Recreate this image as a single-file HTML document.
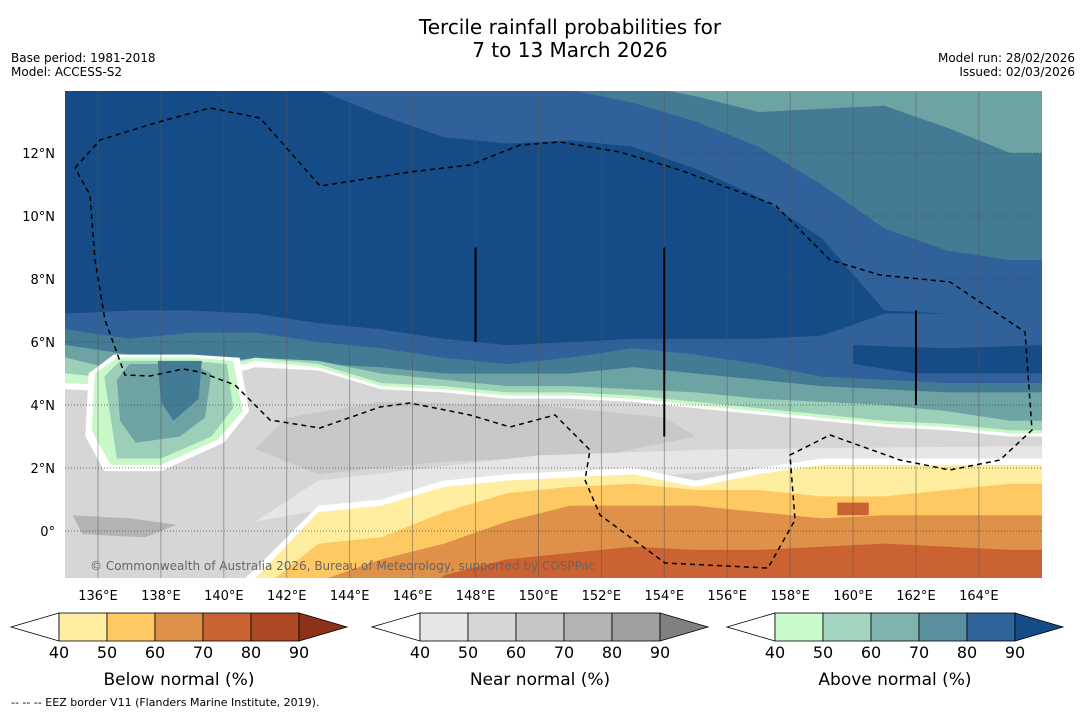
<!DOCTYPE html>
<html><head><meta charset="utf-8">
<style>
body{margin:0;background:#fff;width:1085px;height:713px;overflow:hidden;font-family:"Liberation Sans","DejaVu Sans",sans-serif;}
svg{position:absolute;left:0;top:0}
text{font-family:"DejaVu Sans","Liberation Sans",sans-serif}
</style></head>
<body>
<svg id="c" width="1085" height="713">
 <text x="570" y="34" font-size="20" text-anchor="middle">Tercile rainfall probabilities for</text>
 <text x="570" y="57" font-size="20" text-anchor="middle">7 to 13 March 2026</text>
 <text x="11" y="62" font-size="12">Base period: 1981-2018</text>
 <text x="11" y="76" font-size="12">Model: ACCESS-S2</text>
 <text x="1075" y="62" font-size="12" text-anchor="end">Model run: 28/02/2026</text>
 <text x="1075" y="76" font-size="12" text-anchor="end">Issued: 02/03/2026</text>
 <defs><clipPath id="mc"><rect x="65" y="91" width="977" height="487"/></clipPath></defs>
 <g id="map" clip-path="url(#mc)"></g>
 <g id="axes"></g>
 <g id="bars"></g>
 <text x="11" y="706" font-size="11">--  --  -- EEZ border V11 (Flanders Marine Institute, 2019).</text>
</svg>
<script>
const lons=[135,137,139,141,143,145,147,149,151,153,155,157,159,161,163,165];
const lonTicks=[136,138,140,142,144,146,148,150,152,154,156,158,160,162,164];
const latTicks=[0,2,4,6,8,10,12];
const bandColors=["#447b94","#30619a","#154c87","#30619a","#447b94","#6ea3a4","#9ccfb8","#c8f7c8","#ffffff","#d6d6d6"];
const bandLats=[
 [14.2,14.2,14.2,14.2,14.2,14.2,14.2,14.2,14.2,14.2,13.8,13.3,13.4,13.5,12.8,12],
 [14.2,14.2,14.2,14.2,14.2,14.2,14.2,14.2,14.0,13.6,13.0,12.2,11.0,9.6,8.9,8.6],
 [14.2,14.2,14.2,14.2,14.0,13.2,12.5,12.3,12.4,12.2,11.5,10.6,9.3,7.0,6.9,6.9],
 [6.9,7.0,7.0,6.9,6.6,6.4,6.1,5.9,6.0,6.1,6.1,6.1,6.2,6.9,6.9,6.9],
 [6.4,6.1,6.3,6.3,6.0,5.8,5.5,5.3,5.5,5.8,5.6,5.3,4.9,4.8,4.7,4.7],
 [5.9,5.6,5.6,5.4,5.3,5.2,5.0,5.0,5.0,5.2,5.0,4.8,4.6,4.5,4.4,4.4],
 [5.5,5.0,5.2,5.5,5.4,5.0,4.8,4.6,4.6,4.5,4.4,4.2,4.1,4.0,3.8,3.5],
 [5.0,4.8,5.0,5.5,5.3,4.7,4.6,4.4,4.4,4.3,4.1,3.9,3.7,3.5,3.4,3.2],
 [4.7,4.6,4.8,5.4,5.2,4.6,4.5,4.3,4.3,4.2,4.0,3.8,3.6,3.4,3.3,3.1],
 [4.5,4.4,4.6,5.2,5.1,4.5,4.4,4.2,4.2,4.1,3.9,3.7,3.5,3.3,3.2,3.0]
];
const rainColors=["#ffffff","#ffeda0","#fec963","#df9049","#cb6232"];
const rainLats=[
 [-3,-3,-3,-1.2,0.8,1.0,1.6,1.8,1.9,2.0,1.6,2.0,2.3,2.3,2.3,2.3],
 [-3,-3,-3,-1.5,0.6,0.8,1.4,1.6,1.7,1.8,1.4,1.8,2.1,2.1,2.1,2.1],
 [-3,-3,-3,-2,-0.4,-0.2,0.6,1.2,1.4,1.5,1.3,1.3,1.1,1.1,1.3,1.5],
 [-3,-3,-3,-3,-1.6,-0.9,-0.4,0.3,0.8,0.8,0.8,0.6,0.4,0.5,0.5,0.5],
 [-3,-3,-3,-3,-3,-3,-1.4,-0.9,-0.7,-0.5,-0.6,-0.6,-0.5,-0.4,-0.5,-0.6]
];
const scaleTicks=[40,50,60,70,80,90];
const scales=[
 {x:11,title:"Below normal (%)",cols:["#ffffff","#ffeda0","#fec963","#df9049","#cb6232","#ad4824","#8c3219"]},
 {x:372,title:"Near normal (%)",cols:["#ffffff","#e6e6e6","#d6d6d6","#c6c6c6","#b3b3b3","#a0a0a0","#808080"]},
 {x:727,title:"Above normal (%)",cols:["#ffffff","#c8facc","#a3d6c1","#7fb3ad","#5a8fa0","#30639a","#154c87"]}
];
const X=l=>98+(l-136)*31.46, Y=t=>531-t*31.5;
const NS="http://www.w3.org/2000/svg";
const mk=(t,a,p)=>{const e=document.createElementNS(NS,t);for(const k in a)e.setAttribute(k,a[k]);p.appendChild(e);return e;};
const map=document.getElementById('map'),axes=document.getElementById('axes'),bars=document.getElementById('bars');
function below(lats){let d="M0,"+Y(lats[0]);lats.forEach((t,i)=>d+=" L"+X(lons[i])+","+Y(t));return d+" L1100,"+Y(lats[lats.length-1])+" L1100,600 L0,600 Z";}
mk('rect',{x:65,y:91,width:977,height:487,fill:"#6ea3a4"},map);
bandLats.forEach((b,i)=>{const p=mk('path',{d:below(b),fill:bandColors[i]},map);

});
function poly(pts,fill,name){const p=mk('polygon',{points:pts.map(q=>X(q[0])+","+Y(q[1])).join(" "),fill},map);

}
poly([[142,3.6],[145,4.1],[150,4.0],[154,3.6],[155,3.0],[152,2.4],[147,2.2],[143,1.8],[141,2.6]],"#c8c8c8","near-normal-60-70");
poly([[150,2.4],[156,2.6],[166,2.7],[166,2.3],[157,2.0],[152,1.6],[146,1.2],[141,0.3],[143,1.6]],"#e6e6e6","near-normal-40-50");
poly([[135.2,0.5],[137,0.4],[138.5,0.2],[137.5,-0.2],[135.5,-0.1]],"#b3b3b3","near-normal-70-80");
poly([[135.7,5.0],[136.5,5.6],[139,5.6],[140.5,5.5],[140.8,3.8],[140,2.8],[138,1.9],[136.2,1.9],[135.6,3.0]],"#ffffff","left-white-edge");
poly([[135.9,5.0],[136.6,5.5],[139,5.5],[140.3,5.4],[140.6,3.8],[139.8,2.9],[138,2.1],[136.4,2.1],[135.8,3.2]],"#c8f7c8","left-green");
poly([[136.2,4.9],[136.7,5.4],[139,5.4],[140.1,5.3],[140.3,3.9],[139.6,3.0],[138,2.3],[136.6,2.3]],"#9ccfb8","left-lightteal");
poly([[136.6,4.8],[137,5.3],[139,5.3],[139.6,5.0],[139.4,3.6],[138.6,3.0],[137.2,2.8],[136.7,3.5]],"#6ea3a4","left-teal");
poly([[137.9,5.4],[139.3,5.4],[139.2,4.2],[138.4,3.5],[138,4.1]],"#447b94","left-deep-teal");
rainLats.forEach((b,i)=>{const p=mk('path',{d:below(b),fill:rainColors[i]},map);

});
poly([[163,5.8],[166,5.9],[166,5.0],[162,5.0],[160,5.3],[160,5.9]],"#154c87","right-dark-patch");
poly([[159.5,0.9],[160.5,0.9],[160.5,0.5],[159.5,0.5]],"#cb6232","orange-patch");
lonTicks.forEach(l=>{mk('line',{x1:X(l),x2:X(l),y1:91,y2:578,stroke:"#555","stroke-width":0.8,opacity:0.6},map);});
latTicks.forEach(t=>{mk('line',{x1:65,x2:1042,y1:Y(t),y2:Y(t),stroke:"#444","stroke-width":1,"stroke-dasharray":"1,2",opacity:0.7},map);});
[[148,6,9],[154,3,9],[162,4,7]].forEach(s=>mk('line',{x1:X(s[0]),x2:X(s[0]),y1:Y(s[2]),y2:Y(s[1]),stroke:"#000","stroke-width":2},map));
const eez="75,168 100,140 155,123 210,108 260,118 320,186 410,172 470,165 520,145 560,142 620,152 680,170 775,205 830,260 880,275 950,282 1025,332 1032,430 1000,460 950,470 900,460 830,435 790,455 795,520 768,568 665,563 600,515 585,480 590,450 555,415 510,427 470,415 410,403 380,407 320,428 270,420 235,385 200,372 183,369 150,376 125,375 105,320 95,260 90,195 75,168";
const ez=mk('polyline',{points:eez,fill:"none",stroke:"#000","stroke-width":1.5,"stroke-dasharray":"5,4"},map);


const cp=mk('text',{x:90,y:570,"font-size":12,fill:"#666"},map);cp.textContent="© Commonwealth of Australia 2026, Bureau of Meteorology, supported by COSPPac";


lonTicks.forEach(l=>{const t=mk('text',{x:X(l),y:600,"font-size":13,"text-anchor":"middle"},axes);t.textContent=l+"°E";

});
latTicks.forEach(v=>{const t=mk('text',{x:55,y:Y(v)+5,"font-size":13,"text-anchor":"end"},axes);t.textContent=v===0?"0°":v+"°N";

});
scales.forEach(s=>{const g=mk('g',{},bars);


const x0=s.x,b0=x0+48,y0=613,y1=641,ym=627;
mk('polygon',{points:`${x0},${ym} ${b0},${y0} ${b0},${y1}`,fill:s.cols[0],stroke:"#000","stroke-width":0.8},g);
for(let i=0;i<5;i++)mk('rect',{x:b0+i*48,y:y0,width:48,height:28,fill:s.cols[i+1],stroke:"#000","stroke-width":0.8},g);
mk('polygon',{points:`${b0+240},${y0} ${b0+288},${ym} ${b0+240},${y1}`,fill:s.cols[6],stroke:"#000","stroke-width":0.8},g);
scaleTicks.forEach((v,i)=>{const t=mk('text',{x:b0+i*48,y:658,"font-size":16,"text-anchor":"middle"},g);t.textContent=v;});
const tt=mk('text',{x:b0+120,y:685,"font-size":17,"text-anchor":"middle"},g);tt.textContent=s.title;});
</script>
</body></html>
